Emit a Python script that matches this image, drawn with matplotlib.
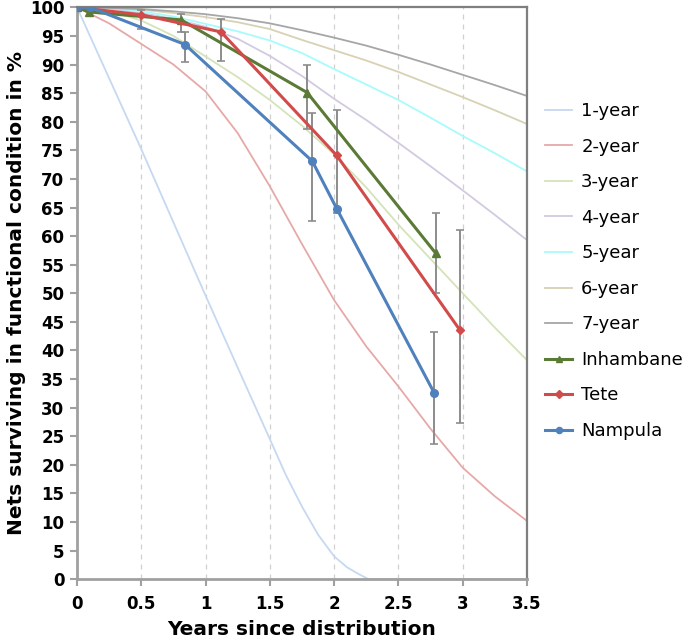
import numpy as np
import matplotlib
matplotlib.use('Agg')
import matplotlib.pyplot as plt

plt.rcParams['font.family'] = ['DejaVu Sans']

# model curves (median survival 1..7 years)
t_curve = [0, 0.25, 0.5, 0.75, 1.0, 1.25, 1.5, 1.75, 2.0, 2.25, 2.5, 2.75, 3.0, 3.25, 3.5]
y1_x = [0, 0.25, 0.5, 0.75, 1.0, 1.25, 1.5, 1.625, 1.75, 1.875, 2.0, 2.1, 2.2, 2.27, 2.5, 3.0, 3.5]
y1 = [100, 87.6, 75.2, 62.4, 49.6, 37.0, 24.5, 18.2, 12.7, 7.8, 4.0, 2.1, 0.8, 0, 0, 0, 0]
y2 = [100, 97.2, 93.6, 90.0, 85.3, 78.0, 68.7, 58.6, 48.8, 40.7, 33.7, 26.3, 19.5, 14.5, 10.2]
y3 = [100, 99.4, 97.7, 95.0, 91.4, 87.8, 83.8, 79.3, 74.3, 68.5, 62.0, 56.0, 50.0, 44.0, 38.3]
y4 = [100, 99.8, 99.0, 98.0, 96.6, 94.5, 91.5, 88.0, 84.0, 80.3, 76.3, 72.2, 68.0, 63.7, 59.3]
y5 = [100, 99.9, 99.3, 98.4, 97.1, 95.8, 94.2, 92.0, 89.2, 86.5, 83.8, 80.7, 77.5, 74.5, 71.3]
y6 = [100, 99.9, 99.6, 99.0, 98.3, 97.4, 96.2, 94.3, 92.5, 90.7, 88.7, 86.5, 84.3, 82.0, 79.6]
y7 = [100, 99.9, 99.7, 99.3, 98.8, 98.1, 97.2, 96.0, 94.7, 93.3, 91.7, 90.0, 88.2, 86.4, 84.5]

# survey data
inh_x = [0, 0.09, 0.81, 1.79, 2.79]
inh_y = [100, 99.2, 97.8, 85.1, 57.0]
inh_lo = [np.nan, np.nan, 95.7, 78.8, 50.1]
inh_hi = [np.nan, np.nan, 98.8, 90.0, 64.1]

tete_x = [0, 0.5, 1.12, 2.02, 2.98]
tete_y = [100, 98.7, 95.7, 74.1, 43.5]
tete_lo = [np.nan, 96.2, 90.7, 64.1, 27.3]
tete_hi = [np.nan, 99.5, 98.0, 82.1, 61.1]

namp_x = [0, 0.1, 0.84, 1.83, 2.02, 2.78]
namp_y = [100, 100, 93.5, 73.1, 64.8, 32.5]
namp_lo = [np.nan, np.nan, 90.5, 62.6, np.nan, 23.6]
namp_hi = [np.nan, np.nan, 95.7, 81.6, np.nan, 43.2]

xticks = [0, 0.5, 1, 1.5, 2, 2.5, 3, 3.5]
xticklabels = ['0', '0.5', '1', '1.5', '2', '2.5', '3', '3.5']

fig = plt.figure(figsize=(6.85, 6.43), dpi=100)
ax = fig.add_axes([0.1124, 0.0991, 0.657, 0.8895])

for xv in xticks[1:-1]:
    ax.axvline(xv, color='#d0d0d0', lw=0.9, ls=(0, (4, 4)), zorder=0)

lw = 1.3
ax.plot(y1_x, y1, color='#c6d9f1', lw=lw, label='1-year')
ax.plot(t_curve, y2, color='#e6a9a7', lw=lw, label='2-year')
ax.plot(t_curve, y3, color='#d4e3b8', lw=lw, label='3-year')
ax.plot(t_curve, y4, color='#d2cae0', lw=lw, label='4-year')
ax.plot(t_curve, y5, color='#a8fbfb', lw=lw, label='5-year')
ax.plot(t_curve, y6, color='#d8d1b4', lw=lw, label='6-year')
ax.plot(t_curve, y7, color='#a6a6a6', lw=lw, label='7-year')

# error bars
for xs, ys, lo, hi in [(inh_x, inh_y, inh_lo, inh_hi),
                       (tete_x, tete_y, tete_lo, tete_hi),
                       (namp_x, namp_y, namp_lo, namp_hi)]:
    xs = np.array(xs); ys = np.array(ys)
    lo = np.array(lo); hi = np.array(hi)
    m = ~np.isnan(lo)
    ax.errorbar(xs[m], ys[m], yerr=[ys[m] - lo[m], hi[m] - ys[m]], fmt='none',
                ecolor='#8c8c8c', elinewidth=1.4, capsize=3, capthick=1.2, zorder=2)

ax.plot(inh_x, inh_y, color='#5b7a35', lw=2.2, marker='^', ms=6, label='Inhambane', zorder=3)
ax.plot(tete_x, tete_y, color='#d24b4b', lw=2.2, marker='D', ms=4.5, label='Tete', zorder=3)
ax.plot(namp_x, namp_y, color='#4f81bd', lw=2.2, marker='o', ms=5.5, label='Nampula', zorder=3)

ax.set_xlim(0, 3.5)
ax.set_ylim(0, 100)
ax.set_xticks(xticks)
ax.set_xticklabels(xticklabels)
ax.set_yticks(range(0, 101, 5))
ax.tick_params(axis='both', colors='#a0a0a0', labelcolor='black', labelsize=12, width=1.5, length=5)
for lab in ax.get_xticklabels() + ax.get_yticklabels():
    lab.set_fontweight('bold')
ax.tick_params(axis='x', pad=6)
ax.tick_params(axis='y', pad=4)

for side in ['left', 'bottom']:
    ax.spines[side].set_color('#a0a0a0')
    ax.spines[side].set_linewidth(2)
for side in ['top', 'right']:
    ax.spines[side].set_color('#7f7f7f')
    ax.spines[side].set_linewidth(1.6)

ax.set_xlabel('Years since distribution', fontsize=14.5, fontweight='bold', labelpad=5)
ax.set_ylabel('Nets surviving in functional condition in %', fontsize=14.5, fontweight='bold', labelpad=3)

ax.legend(loc='upper left', bbox_to_anchor=(1.04, 0.834), frameon=False, fontsize=13,
          labelspacing=0.97, handlelength=1.5, handletextpad=0.5, borderpad=0,
          borderaxespad=0, markerscale=0.8)

fig.savefig('out.png', dpi=100)
